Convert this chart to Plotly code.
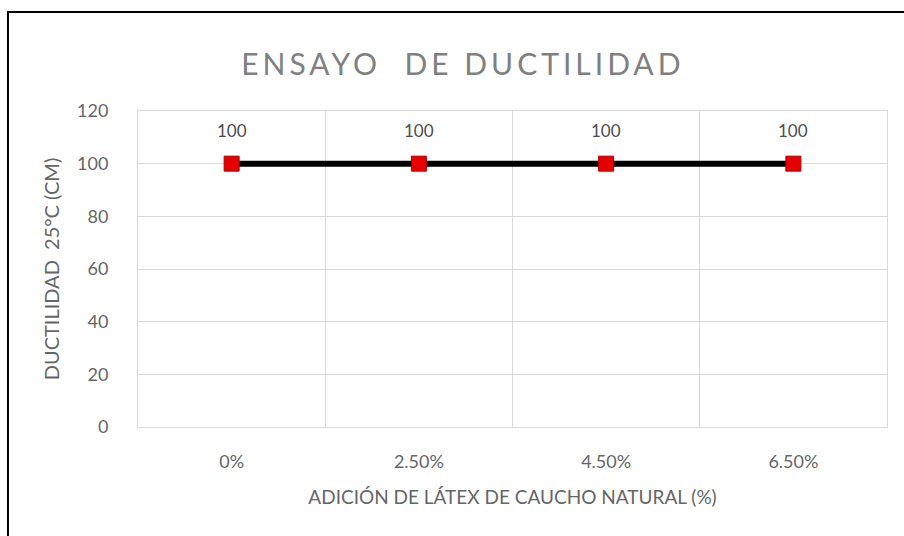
import plotly.graph_objects as go

# data
categorias = ["0%", "2.50%", "4.50%", "6.50%"]
ductilidad = [100, 100, 100, 100]
y_ticks = [0, 20, 40, 60, 80, 100, 120]

GRIS = "#666666"
GRID = "#d9d9d9"
FONT = "Lato, 'Open Sans', sans-serif"

fig = go.Figure()
fig.add_trace(go.Scatter(
    x=categorias, y=ductilidad,
    mode="lines+markers",
    line=dict(color="black", width=6),
    marker=dict(symbol="square", size=15, color="#e60000",
                line=dict(width=1, color="#b00000")),
    cliponaxis=False,
    showlegend=False,
))

# value labels above each point
for c, v in zip(categorias, ductilidad):
    fig.add_annotation(x=c, y=v, text=str(v), showarrow=False, yshift=33,
                       font=dict(size=17, color="#4d4d4d", family=FONT))

fig.update_layout(
    width=904, height=536,
    paper_bgcolor="white", plot_bgcolor="white",
    font=dict(family=FONT, color=GRIS, size=18),
    margin=dict(l=138, r=17, t=111, b=109),
    title=dict(text="ENSAYO  DE DUCTILIDAD", x=0.512, xanchor="center",
               y=0.879, yanchor="middle",
               font=dict(size=30, color="#808080", family=FONT)),
    shapes=[dict(type="rect", xref="paper", yref="paper",
                 x0=-0.1736, x1=1.05, y0=-0.40, y1=1.3133,
                 line=dict(color="black", width=2), layer="above")],
)

fig.update_xaxes(
    type="category", tickson="boundaries", ticks="",
    range=[-0.5, 3.5],
    showgrid=True, gridcolor=GRID, gridwidth=1,
    showline=True, linecolor=GRID, mirror=True,
    ticklabelstandoff=18,
    tickfont=dict(size=18, color=GRIS),
    title=dict(text="ADICIÓN DE LÁTEX DE CAUCHO NATURAL (%)", standoff=20,
               font=dict(size=19, color=GRIS)),
)
fig.update_yaxes(
    range=[0, 120], tickvals=y_ticks, ticks="",
    showgrid=True, gridcolor=GRID, gridwidth=1, zeroline=False,
    showline=True, linecolor=GRID, mirror=True,
    ticklabelstandoff=25,
    tickfont=dict(size=18, color=GRIS),
    title=dict(text="DUCTILIDAD  25°C (CM)", standoff=12,
               font=dict(size=20, color=GRIS)),
)

fig.write_html(
    "out.html",
    config=dict(displayModeBar=False),
    post_script="document.body.style.margin='0';"
                "var t=document.querySelector('.gtitle');"
                "if(t){t.style.letterSpacing='4px';}",
)
